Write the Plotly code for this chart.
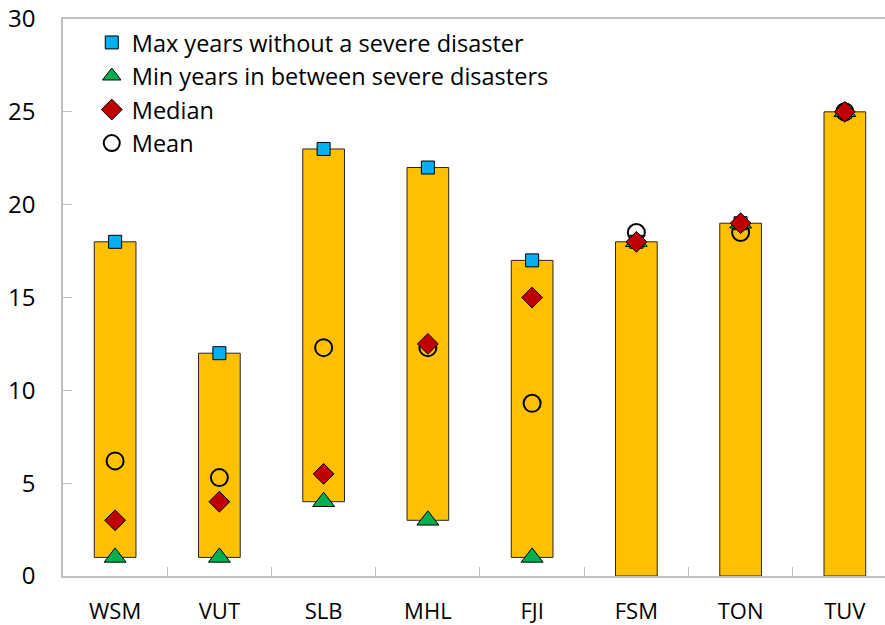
import plotly.graph_objects as go

countries = ["WSM", "VUT", "SLB", "MHL", "FJI", "FSM", "TON", "TUV"]
bar_base = [1, 1, 4, 3, 1, 0, 0, 0]
bar_top = [18, 12, 23, 22, 17, 18, 19, 25]
max_years = [18, 12, 23, 22, 17, 18, 19, 25]
min_years = [1, 1, 4, 3, 1, 18, 19, 25]
median_years = [3, 4, 5.5, 12.5, 15, 18, 19, 25]
mean_years = [6.2, 5.3, 12.3, 12.3, 9.3, 18.5, 18.5, 25]
y_ticks = [0, 5, 10, 15, 20, 25, 30]

FONT = "Open Sans, Noto Sans, sans-serif"
FS_TICK = 24
FS_XTICK = 22
FS_LEG = 23.5

fig = go.Figure()
fig.add_trace(go.Bar(
    x=countries, y=[t - b for t, b in zip(bar_top, bar_base)], base=bar_base,
    width=0.4, marker=dict(color="#FFC000", line=dict(color="#262626", width=1)),
    showlegend=False, hoverinfo="skip"))
fig.add_trace(go.Scatter(
    x=countries, y=mean_years, mode="markers", name="Mean", legendrank=4,
    marker=dict(symbol="circle-open", size=17, color="black", line=dict(width=2, color="black"))))
fig.add_trace(go.Scatter(
    x=countries, y=max_years, mode="markers", name="Max years without a severe disaster", legendrank=1,
    marker=dict(symbol="square", size=13, color="#00B0F0", line=dict(width=1, color="black"))))
fig.add_trace(go.Scatter(
    x=countries, y=min_years, mode="markers", name="Min years in between severe disasters", legendrank=2,
    marker=dict(symbol="triangle-up", size=19, color="#00B050", line=dict(width=1, color="black"))))
fig.add_trace(go.Scatter(
    x=countries, y=median_years, mode="markers", name="Median", legendrank=3,
    marker=dict(symbol="diamond", size=16, color="#C00000", line=dict(width=1, color="black"))))

fig.update_layout(
    width=885, height=625,
    margin=dict(l=63, r=0, t=19, b=49),
    paper_bgcolor="white", plot_bgcolor="white",
    font=dict(family=FONT, size=FS_TICK, color="black"),
    showlegend=True,
    legend=dict(x=0.035, y=0.997, xanchor="left", yanchor="top",
                bgcolor="rgba(0,0,0,0)", font=dict(size=FS_LEG, family=FONT),
                traceorder="normal", itemwidth=30),
    xaxis=dict(type="category", range=[-0.5, 7.385], showgrid=False, automargin=False,
               showline=True, linecolor="#BFBFBF", linewidth=1.5, mirror=True,
               ticks="inside", tickson="boundaries", ticklen=9, tickcolor="#BFBFBF",
               tickfont=dict(size=FS_XTICK, family=FONT), ticklabelstandoff=15),
    yaxis=dict(range=[0, 30], tickvals=y_ticks, showgrid=False, zeroline=False, automargin=False,
               showline=True, linecolor="#BFBFBF", linewidth=1.5,
               ticks="inside", ticklen=9, tickcolor="#BFBFBF",
               tickfont=dict(size=FS_TICK, family=FONT), ticklabelstandoff=21),
)

fig.write_html("out.html", config={"displayModeBar": False},
               post_script="document.body.style.margin='0';document.body.style.overflow='hidden';")
